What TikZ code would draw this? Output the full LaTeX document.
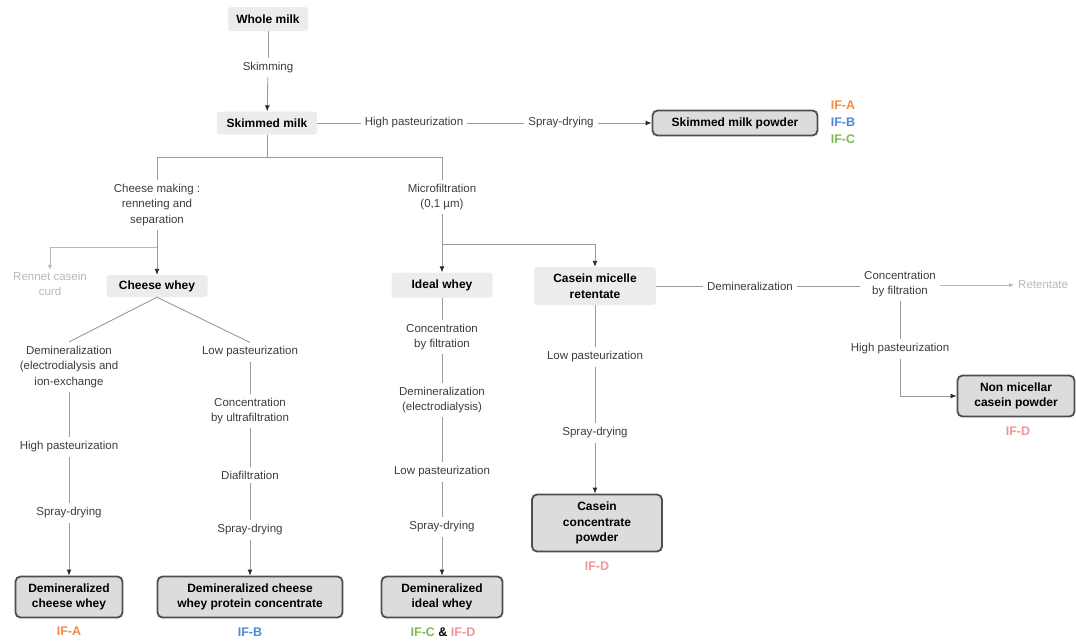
\documentclass[tikz,border=0pt]{standalone}
\usepackage{fontspec}
\setmainfont{Liberation Sans}
\usetikzlibrary{arrows.meta, positioning, calc}
\definecolor{lineGrey}{HTML}{9A9A9A}
\definecolor{textGrey}{HTML}{3C3C3C}
\definecolor{tipDark}{HTML}{2A2A2A}
\definecolor{boxGrey}{HTML}{ECECEC}
\definecolor{prodGrey}{HTML}{DCDCDC}
\definecolor{prodBorder}{HTML}{4E4E4E}
\definecolor{fadeGrey}{HTML}{B8B8B8}
\definecolor{ifOrange}{HTML}{F28B45}
\definecolor{ifBlue}{HTML}{4E86DA}
\definecolor{ifGreen}{HTML}{7DBA55}
\definecolor{ifPink}{HTML}{F19494}
\tikzset{
    % Connectors
    flowLine/.style={draw=lineGrey, line width=0.9pt},
    flowArrow/.style={flowLine, -{Latex[length=6pt,width=5pt,color=tipDark]}},
    fadeArrow/.style={draw=fadeGrey, line width=0.9pt, -{Latex[length=5pt,width=4.5pt]}},
    % Texts
    stepLabel/.style={font=\fontsize{11.5}{15.5}\selectfont, text=textGrey, align=center, inner sep=4pt},
    fadeLabel/.style={stepLabel, text=fadeGrey},
    % Boxes
    stageBox/.style={fill=boxGrey, rounded corners=3pt, font=\bfseries\fontsize{12}{15.5}\selectfont, align=center, inner sep=2pt},
    productBox/.style={fill=prodGrey, draw=prodBorder, line width=1.8pt, rounded corners=5pt,
        font=\bfseries\fontsize{12}{15.5}\selectfont, align=center, inner sep=2pt},
    ifTag/.style={font=\bfseries\fontsize{12.5}{14}\selectfont, inner sep=1pt}
}
\begin{document}
\begin{tikzpicture}[x=1pt, y=-1pt]
    \useasboundingbox (0,0) rectangle (1076,643);

    % Trunk
    \node[stageBox, minimum width=80, minimum height=24] (whole) at (268,19) {Whole milk};
    \node[stepLabel] (skimming) at (268,68) {Skimming};
    \node[stageBox, minimum width=100, minimum height=23] (skim) at (267,123) {Skimmed milk};
    \node[stepLabel] (hpTop) at (414,123) {High pasteurization};
    \node[stepLabel] (sdTop) at (561,123) {Spray-drying};
    \node[productBox, minimum width=165, minimum height=25] (smp) at (735,123) {Skimmed milk powder};
    \node[ifTag, text=ifOrange] (ifA0) at (843,105) {IF-A};
    \node[ifTag, text=ifBlue] (ifB0) at (843,122) {IF-B};
    \node[ifTag, text=ifGreen] (ifC0) at (843,139) {IF-C};

    \draw[flowLine] (whole) -- (skimming);
    \draw[flowArrow] (skimming) -- (skim);
    \draw[flowLine] (skim.east) -- (hpTop.west);
    \draw[flowLine] (hpTop.east) -- (sdTop.west);
    \draw[flowArrow] (sdTop.east) -- (smp.west);

    % Split into cheese and microfiltration
    \coordinate (split) at (267,157);
    \coordinate (splitL) at (157,157);
    \coordinate (splitR) at (442,157);
    \draw[flowLine] (skim.south) -- (split);
    \draw[flowLine] (splitL) -- (splitR);

    \node[stepLabel] (cheeseMk) at (157,205) {Cheese making :\\renneting and\\separation};
    \node[stepLabel] (microF) at (442,197) {Microfiltration\\(0,1 µm)};
    \draw[flowLine] (splitL) -- (cheeseMk);
    \draw[flowLine] (splitR) -- (microF);

    % Cheese whey
    \node[stageBox, minimum width=101, minimum height=22] (cheeseWhey) at (157,286) {Cheese whey};
    \node[fadeLabel, inner sep=2pt] (rennet) at (50,284) {Rennet casein\\curd};
    \coordinate (rcSplit) at (157,247);
    \draw[flowArrow] (cheeseMk) -- (cheeseWhey);
    \draw[fadeArrow] (rcSplit) -| (rennet.north);

    % Column A
    \node[stepLabel] (deminA) at (69,367) {Demineralization\\(electrodialysis and\\ion-exchange};
    \node[stepLabel] (hpA) at (69,447) {High pasteurization};
    \node[stepLabel] (sdA) at (69,513) {Spray-drying};
    \node[productBox, minimum width=107, minimum height=41] (dcw) at (69,597) {Demineralized\\cheese whey};
    \node[ifTag, text=ifOrange] (ifA) at (69,631) {IF-A};
    \draw[flowLine] (cheeseWhey.south) -- (deminA.north);
    \draw[flowLine] (deminA) -- (hpA);
    \draw[flowLine] (hpA) -- (sdA);
    \draw[flowArrow] (sdA) -- (dcw);

    % Column B
    \node[stepLabel] (lpB) at (250,352) {Low pasteurization};
    \node[stepLabel] (concB) at (250,411) {Concentration\\by ultrafiltration};
    \node[stepLabel] (diaB) at (250,475) {Diafiltration};
    \node[stepLabel] (sdB) at (250,530) {Spray-drying};
    \node[productBox, minimum width=185, minimum height=41] (dwpc) at (250,597) {Demineralized cheese\\whey protein concentrate};
    \node[ifTag, text=ifBlue] (ifB) at (250,632) {IF-B};
    \draw[flowLine] (cheeseWhey.south) -- (lpB.north);
    \draw[flowLine] (lpB) -- (concB);
    \draw[flowLine] (concB) -- (diaB);
    \draw[flowLine] (diaB) -- (sdB);
    \draw[flowArrow] (sdB) -- (dwpc);

    % Microfiltration split
    \coordinate (mfSplit) at (442,244);
    \node[stageBox, minimum width=101, minimum height=25] (idealWhey) at (442,285) {Ideal whey};
    \node[stageBox, minimum width=122, minimum height=38] (casRet) at (595,286) {Casein micelle\\retentate};
    \draw[flowLine] (microF) -- (mfSplit);
    \draw[flowArrow] (mfSplit) -- (idealWhey);
    \draw[flowArrow] (mfSplit) -| (casRet);

    % Column C
    \node[stepLabel] (concC) at (442,337) {Concentration\\by filtration};
    \node[stepLabel] (deminC) at (442,400) {Demineralization\\(electrodialysis)};
    \node[stepLabel] (lpC) at (442,472) {Low pasteurization};
    \node[stepLabel] (sdC) at (442,527) {Spray-drying};
    \node[productBox, minimum width=121, minimum height=41] (diw) at (442,597) {Demineralized\\ideal whey};
    \node[ifTag] (ifCD) at (443,632) {\textcolor{ifGreen}{IF-C} \& \textcolor{ifPink}{IF-D}};
    \draw[flowLine] (idealWhey) -- (concC);
    \draw[flowLine] (concC) -- (deminC);
    \draw[flowLine] (deminC) -- (lpC);
    \draw[flowLine] (lpC) -- (sdC);
    \draw[flowArrow] (sdC) -- (diw);

    % Column D
    \node[stepLabel] (lpD) at (595,357) {Low pasteurization};
    \node[stepLabel] (sdD) at (595,433) {Spray-drying};
    \node[productBox, minimum width=130, minimum height=57] (ccp) at (597,523) {Casein\\concentrate\\powder};
    \node[ifTag, text=ifPink] (ifD1) at (597,566) {IF-D};
    \draw[flowLine] (casRet) -- (lpD);
    \draw[flowLine] (lpD) -- (sdD);
    \draw[flowArrow] (sdD) -- (ccp.north -| sdD);

    % Retentate branch
    \node[stepLabel] (deminR) at (750,286) {Demineralization};
    \node[stepLabel] (concR) at (900,284) {Concentration\\by filtration};
    \node[fadeLabel, anchor=west] (retentate) at (1014,285) {Retentate};
    \node[stepLabel] (hpR) at (900,349) {High pasteurization};
    \node[productBox, minimum width=117, minimum height=41] (nmc) at (1016,396) {Non micellar\\casein powder};
    \node[ifTag, text=ifPink] (ifD2) at (1018,431) {IF-D};
    \draw[flowLine] (casRet.east) -- (deminR.west |- casRet.east);
    \draw[flowLine] (deminR.east) -- (concR.west |- deminR.east);
    \draw[fadeArrow] (concR.east |- retentate.west) -- (retentate.west);
    \draw[flowLine] (concR) -- (hpR);
    \draw[flowArrow] (hpR) |- (nmc.west);
\end{tikzpicture}
\end{document}
